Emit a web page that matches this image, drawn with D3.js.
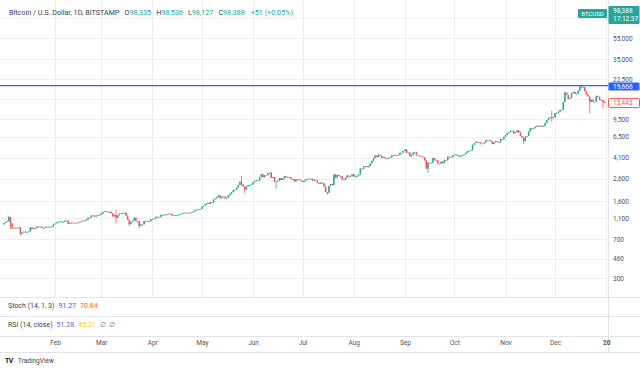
<!DOCTYPE html>
<html>
<head>
<meta charset="utf-8">
<script src="https://cdn.jsdelivr.net/npm/d3@7"></script>
<style>
  body { margin: 0; background: #fff; }
  svg { display: block; font-family: Roboto, "Noto Sans", sans-serif; }
</style>
</head>
<body>
<div id="chart"></div>
<script>
// daily closes, BTCUSD (log scale)
const firstOpen = 966;
const closeJan = [998,1017,1033,1135,989,886,888,900,899,906,785,812,826,818,822,830,904,873,897,891,921,924,921,892,894,915,920,920,914,921,967];
const closeFeb = [987,1007,1018,1033,1014,1024,1051,1052,978,996,1008,998,995,1008,1007,1026,1046,1053,1048,1076,1118,1117,1174,1172,1144,1171,1187,1189];
const closeMar = [1225,1264,1286,1264,1275,1277,1231,1150,1187,1116,1176,1221,1231,1240,1249,1171,1071,971,1022,1047,1120,1043,1035,934,966,966,1043,1045,1039,1034,1080];
const closeApr = [1089,1094,1143,1139,1131,1192,1189,1182,1207,1209,1222,1214,1175,1180,1184,1186,1198,1214,1225,1250,1246,1245,1248,1247,1262,1288,1330,1334,1347,1348];
const closeMay = [1421,1451,1490,1536,1507,1565,1553,1664,1700,1758,1818,1704,1760,1770,1702,1727,1812,1886,1954,2040,2050,2150,2271,2443,2304,2200,2050,2200,2270,2280,2300];
const closeJun = [2411,2490,2530,2520,2700,2870,2690,2800,2810,2930,2980,2650,2710,2440,2450,2500,2650,2530,2610,2750,2680,2710,2700,2600,2580,2450,2560,2570,2540,2480];
const closeJul = [2420,2500,2560,2600,2610,2600,2500,2550,2510,2380,2330,2400,2360,2200,1950,1920,2230,2320,2270,2860,2660,2830,2760,2750,2570,2540,2660,2800,2720,2740,2870];
const closeAug = [2730,2700,2790,2860,3250,3220,3390,3420,3340,3420,3640,3850,4070,4320,4160,4380,4300,4100,4160,4060,4000,4080,4140,4320,4370,4350,4350,4380,4580,4580,4740];
const closeSep = [4920,4580,4600,4230,4380,4610,4630,4330,4330,4240,4220,4150,3870,3240,3700,3690,3680,4090,3900,3880,3610,3600,3780,3660,3920,3890,4210,4180,4160,4340];
const closeOct = [4390,4400,4310,4210,4320,4370,4430,4600,4770,4760,4830,5440,5640,5810,5690,5740,5600,5570,5700,5990,6010,5980,5900,5520,5740,5890,5770,5740,6140,6120,6450];
const closeNov = [6740,7020,7160,7390,7390,6960,7120,7440,7130,6580,6340,5870,6520,6590,7280,7840,7700,7780,8040,8240,8100,8230,8010,8200,8750,9280,9700,9940,9880,9830];
const closeDec = [10850,10890,11180,11590,11650,13750,16900,16050,14700,15050,16700,17180,16400,16500,17600,19200,19060,18960,17350,16150,15480,13800,14480,13850,13850,15750,15400,14380,14380,13900,13443];

// the long wicks that stand out
const wickDays  = ['2017-01-04','2017-01-05','2017-01-11','2017-03-10','2017-03-18','2017-03-24','2017-05-25','2017-05-27','2017-06-15','2017-07-16','2017-09-15','2017-11-12','2017-11-29','2017-12-07','2017-12-17','2017-12-22','2017-12-30'];
const wickHighs = [1160, null, null, 1330, null, null, 2760, null, null, null, null, null, 11400, 17200, 19666, null, null];
const wickLows  = [null, 870, 760, 980, 940, 890, 2250, 1900, 2100, 1840, 2970, 5550, 9000, null, null, 10800, 12100];

// grid levels; the labels of 14,600 and 85,000 sit under the price boxes
const priceTicks = [300, 460, 700, 1100, 1600, 2600, 4100, 6500, 9500, 14600, 22500, 35000, 55000, 85000];
const hiddenTicks = [14600, 85000];
const monthTicks = ['2017-02-01','2017-03-01','2017-04-01','2017-05-01','2017-06-01','2017-07-01','2017-08-01','2017-09-01','2017-10-01','2017-11-01','2017-12-01','2018-01-01'];
const monthLabels = ['Feb','Mar','Apr','May','Jun','Jul','Aug','Sep','Oct','Nov','Dec','20'];

const highLine = 19666;

const width = 640, height = 373;
const plotRight = 608, paneBottom = 297;
const up = '#26a69a', down = '#ef5350', grid = '#eceef2';

let closes = [].concat(closeJan, closeFeb, closeMar, closeApr, closeMay, closeJun,
                       closeJul, closeAug, closeSep, closeOct, closeNov, closeDec);
let days = d3.utcDays(new Date(Date.UTC(2017, 0, 1)), new Date(Date.UTC(2018, 0, 1)));
let wickIndex = {};
wickDays.forEach((d, i) => { wickIndex[d] = i; });

let candles = days.map((day, i) => {
  let open = i == 0 ? firstOpen : closes[i - 1];
  let close = closes[i];
  let key = d3.utcFormat('%Y-%m-%d')(day);
  let hi = Math.max(open, close), lo = Math.min(open, close);
  if (key in wickIndex) {
    let w = wickIndex[key];
    if (wickHighs[w] != null) hi = Math.max(hi, wickHighs[w]);
    if (wickLows[w] != null) lo = Math.min(lo, wickLows[w]);
  }
  return {date: day, open: open, close: close, high: hi, low: lo};
});

let x = d3.scaleUtc()
  .domain([new Date(Date.UTC(2016, 11, 29, 16)), new Date(Date.UTC(2018, 0, 2, 2))])
  .range([0, plotRight]);
let y = d3.scaleLog()
  .domain([200, 126000])
  .range([paneBottom, 0]);

let svg = d3.select('#chart').append('svg')
  .attr('width', width)
  .attr('height', height);

svg.append('rect').attr('width', width).attr('height', height).attr('fill', '#fff');

// grid
let monthDates = monthTicks.map((d) => new Date(d + 'T00:00:00Z'));
svg.append('g').selectAll('line')
    .data(monthDates)
  .enter().append('line')
    .attr('x1', (d) => Math.round(x(d)) + 0.5).attr('x2', (d) => Math.round(x(d)) + 0.5)
    .attr('y1', 0).attr('y2', paneBottom)
    .attr('stroke', grid);
svg.append('g').selectAll('line')
    .data(priceTicks)
  .enter().append('line')
    .attr('x1', 0).attr('x2', plotRight)
    .attr('y1', (d) => Math.round(y(d)) + 0.5).attr('y2', (d) => Math.round(y(d)) + 0.5)
    .attr('stroke', grid);

// pane separators
[paneBottom, 316, 336, 352].forEach((py) => {
  svg.append('line')
    .attr('x1', 0).attr('x2', width)
    .attr('y1', py + 0.5).attr('y2', py + 0.5)
    .attr('stroke', '#e2e4e9');
});
svg.append('line')
  .attr('x1', plotRight + 0.5).attr('x2', plotRight + 0.5)
  .attr('y1', 0).attr('y2', 352)
  .attr('stroke', '#e2e4e9');

// candles
let bars = svg.append('g');
bars.selectAll('line')
    .data(candles)
  .enter().append('line')
    .attr('x1', (d) => x(d.date)).attr('x2', (d) => x(d.date))
    .attr('y1', (d) => y(d.high)).attr('y2', (d) => y(d.low))
    .attr('stroke', (d) => d.close >= d.open ? up : down)
    .attr('stroke-width', 0.8);
bars.selectAll('rect')
    .data(candles)
  .enter().append('rect')
    .attr('x', (d) => x(d.date) - 0.7)
    .attr('width', 1.4)
    .attr('y', (d) => y(Math.max(d.open, d.close)))
    .attr('height', (d) => Math.max(0.9, y(Math.min(d.open, d.close)) - y(Math.max(d.open, d.close))))
    .attr('fill', (d) => d.close >= d.open ? up : down);

// all time high line
svg.append('line')
  .attr('x1', 0).attr('x2', plotRight)
  .attr('y1', y(highLine)).attr('y2', y(highLine))
  .attr('stroke', '#2962ff')
  .attr('stroke-width', 1.2);

// price axis
let yAxis = svg.append('g')
  .attr('transform', 'translate(' + plotRight + ',0)')
  .call(d3.axisRight(y).tickValues(priceTicks.filter((t) => hiddenTicks.indexOf(t) < 0))
    .tickFormat(d3.format(',')).tickSize(0).tickPadding(5));
yAxis.select('.domain').remove();
yAxis.selectAll('text').attr('font-size', 6.5).attr('fill', '#50535e').attr('font-family', 'Roboto, sans-serif');

// time axis
let xAxis = svg.append('g')
  .attr('transform', 'translate(0,336)')
  .call(d3.axisBottom(x).tickValues(monthDates).tickFormat((d, i) => monthLabels[i]).tickSize(0).tickPadding(4));
xAxis.select('.domain').remove();
xAxis.selectAll('text').attr('font-size', 6.5).attr('fill', '#50535e').attr('font-family', 'Roboto, sans-serif')
  .attr('font-weight', (d, i) => monthLabels[i] == '20' ? 'bold' : null);

// price labels on the axis
function priceBox(cy, h, fill, stroke, textColor, lines) {
  svg.append('rect')
    .attr('x', plotRight + 0.5).attr('y', cy - h / 2)
    .attr('width', width - plotRight - 1).attr('height', h)
    .attr('rx', 1)
    .attr('fill', fill).attr('stroke', stroke);
  lines.forEach((t, i) => {
    svg.append('text')
      .attr('x', plotRight + 5).attr('y', cy + (i - (lines.length - 1) / 2) * 8)
      .attr('dy', '0.35em')
      .attr('font-size', 6.5).attr('fill', textColor)
      .text(t);
  });
}
priceBox(y(highLine) + 1, 8, '#2962ff', 'none', '#fff', [d3.format(',')(highLine)]);
priceBox(y(closes[closes.length - 1]), 9, '#fff', down, down, [d3.format(',')(closes[closes.length - 1])]);
priceBox(15, 18, up, 'none', '#fff', ['98,388', '17:12:37']);

svg.append('rect')
  .attr('x', 578).attr('y', 9).attr('width', 29).attr('height', 9).attr('rx', 1)
  .attr('fill', up);
svg.append('text')
  .attr('x', 592.5).attr('y', 13.5).attr('dy', '0.35em')
  .attr('text-anchor', 'middle')
  .attr('font-size', 6).attr('fill', '#fff')
  .text('BTCUSD');

// header legend
let header = svg.append('text')
  .attr('x', 9).attr('y', 12).attr('dy', '0.35em')
  .attr('font-size', 7.2).attr('fill', '#3a3d47');
header.append('tspan').text('Bitcoin / U.S. Dollar, 1D, BITSTAMP');
[['O', '98,335'], ['H', '98,536'], ['L', '98,127'], ['C', '98,388']].forEach((p) => {
  header.append('tspan').attr('dx', 5).attr('fill', '#3a3d47').text(p[0]);
  header.append('tspan').attr('fill', up).text(p[1]);
});
header.append('tspan').attr('dx', 6).attr('fill', up).text('+51 (+0.05%)');

// indicator panes
let stoch = svg.append('text')
  .attr('x', 8).attr('y', 306).attr('dy', '0.35em')
  .attr('font-size', 7).attr('fill', '#3a3d47');
stoch.append('tspan').text('Stoch (14, 1, 3)');
stoch.append('tspan').attr('dx', 4).attr('fill', '#2962ff').text('91.27');
stoch.append('tspan').attr('dx', 4).attr('fill', '#ff6d00').text('70.84');

let rsi = svg.append('text')
  .attr('x', 8).attr('y', 325).attr('dy', '0.35em')
  .attr('font-size', 7).attr('fill', '#3a3d47');
rsi.append('tspan').text('RSI (14, close)');
rsi.append('tspan').attr('dx', 4).attr('fill', '#7e57c2').text('51.28');
rsi.append('tspan').attr('dx', 4).attr('fill', '#f5c518').text('45.21');
rsi.append('tspan').attr('dx', 4).attr('fill', '#787b86').text('\u2205');
rsi.append('tspan').attr('dx', 3).attr('fill', '#787b86').text('\u2205');

// footer logo
svg.append('text')
  .attr('x', 5).attr('y', 361).attr('dy', '0.35em')
  .attr('font-size', 7).attr('font-weight', 'bold').attr('fill', '#131722')
  .attr('letter-spacing', -0.6)
  .text('TV');
svg.append('text')
  .attr('x', 18).attr('y', 361).attr('dy', '0.35em')
  .attr('font-size', 6.5).attr('fill', '#3a3d47')
  .text('TradingView');
</script>
</body>
</html>
